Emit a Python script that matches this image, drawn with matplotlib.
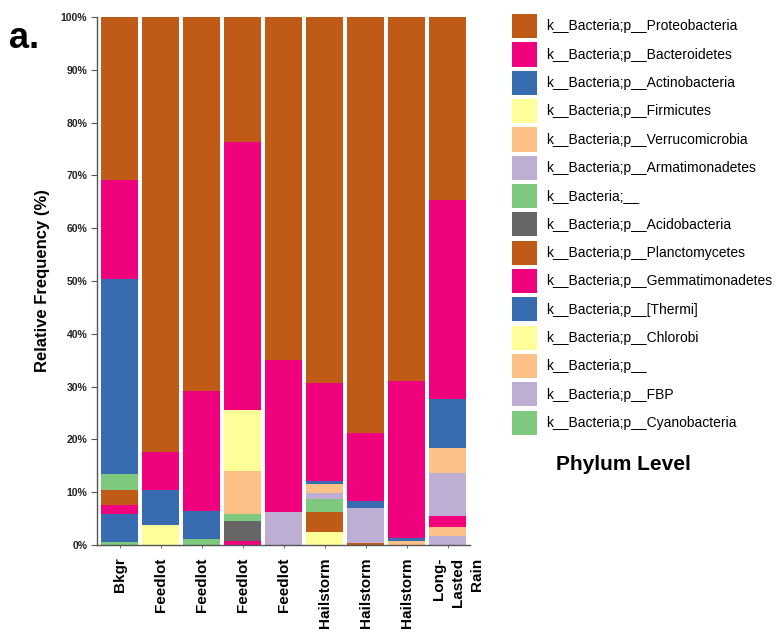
import numpy as np
import matplotlib.pyplot as plt
from matplotlib.patches import Patch

plt.rcParams['font.family'] = ['Liberation Sans', 'DejaVu Sans']

samples = ['Bkgr', 'Feedlot', 'Feedlot', 'Feedlot', 'Feedlot',
           'Hailstorm', 'Hailstorm', 'Hailstorm', 'Long-\nLasted\nRain']

# phyla in legend order (top of stack first)
phyla = ['k__Bacteria;p__Proteobacteria', 'k__Bacteria;p__Bacteroidetes',
         'k__Bacteria;p__Actinobacteria', 'k__Bacteria;p__Firmicutes',
         'k__Bacteria;p__Verrucomicrobia', 'k__Bacteria;p__Armatimonadetes',
         'k__Bacteria;__', 'k__Bacteria;p__Acidobacteria',
         'k__Bacteria;p__Planctomycetes', 'k__Bacteria;p__Gemmatimonadetes',
         'k__Bacteria;p__[Thermi]', 'k__Bacteria;p__Chlorobi',
         'k__Bacteria;p__', 'k__Bacteria;p__FBP', 'k__Bacteria;p__Cyanobacteria']

colors = ['#bf5b17', '#f0027f', '#386cb0', '#ffff99', '#fdc086', '#beaed4',
          '#7fc97f', '#666666'] * 2
colors = colors[:15]

# relative frequency (%) of each phylum per sample
proteo    = [30.9, 82.3, 70.9, 23.6, 65.0, 69.3, 78.8, 68.9, 34.7]
bacteroid = [18.8,  7.2, 22.6, 50.8, 28.8, 18.6, 12.8, 29.7, 37.6]
actino    = [36.9,  6.8,  5.4,  0.0,  0.0,  0.6,  1.4,  0.0,  9.4]
firmic    = [ 0.0,  3.7,  0.0, 11.6,  0.0,  0.0,  0.0,  0.0,  0.0]
verruco   = [ 0.0,  0.0,  0.0,  8.1,  0.0,  1.7,  0.0,  0.0,  4.7]
armati    = [ 0.0,  0.0,  0.0,  0.0,  6.2,  1.0,  6.6,  0.0,  8.1]
bact_unk  = [ 2.9,  0.0,  0.0,  1.4,  0.0,  2.6,  0.0,  0.0,  0.0]
acido     = [ 0.0,  0.0,  0.0,  3.8,  0.0,  0.0,  0.0,  0.0,  0.0]
plancto   = [ 2.9,  0.0,  0.0,  0.0,  0.0,  3.8,  0.4,  0.0,  0.0]
gemma     = [ 1.8,  0.0,  0.0,  0.7,  0.0,  0.0,  0.0,  0.0,  2.0]
thermi    = [ 5.2,  0.0,  0.0,  0.0,  0.0,  0.0,  0.0,  0.6,  0.0]
chlorobi  = [ 0.0,  0.0,  0.0,  0.0,  0.0,  2.4,  0.0,  0.0,  0.0]
p_unk     = [ 0.0,  0.0,  0.0,  0.0,  0.0,  0.0,  0.0,  0.8,  1.7]
fbp       = [ 0.0,  0.0,  0.0,  0.0,  0.0,  0.0,  0.0,  0.0,  1.8]
cyano     = [ 0.6,  0.0,  1.1,  0.0,  0.0,  0.0,  0.0,  0.0,  0.0]

values = [proteo, bacteroid, actino, firmic, verruco, armati, bact_unk, acido,
          plancto, gemma, thermi, chlorobi, p_unk, fbp, cyano]

fig = plt.figure(figsize=(7.77, 6.35), dpi=100)
ax = fig.add_axes([0.1248, 0.1417, 0.4802, 0.8315])

x = np.arange(len(samples))
bottom = np.zeros(len(samples))
# stack from the last phylum upward so Proteobacteria ends on top
for vals, c in zip(values[::-1], colors[::-1]):
    vals = np.array(vals)
    ax.bar(x, vals, bottom=bottom, width=0.89, color=c, linewidth=0)
    bottom += vals

ax.set_xlim(-0.55, 8.55)
ax.set_ylim(0, 100)
ax.set_yticks(np.arange(0, 101, 10))
ax.set_yticklabels([f'{v}%' for v in range(0, 101, 10)],
                   fontsize=7.5, fontweight='bold', color='#222222')
ax.set_xticks(x)
# the three-line label is drawn separately, nudged right of its tick
ax.set_xticklabels(samples[:-1] + [''], rotation=90, fontsize=11,
                   fontweight='bold')
ax.annotate(samples[-1], xy=(x[-1], 0), xycoords=('data', 'axes fraction'),
            xytext=(7.5, -9), textcoords='offset points', rotation=90,
            ha='center', va='top', multialignment='right', linespacing=1.45,
            fontsize=11, fontweight='bold')
ax.tick_params(axis='y', length=4, width=0.8, color='#555555', pad=3)
ax.tick_params(axis='x', length=2, width=0.6, color='#555555', pad=7)
for s in ['top', 'right']:
    ax.spines[s].set_visible(False)
for s in ['left', 'bottom']:
    ax.spines[s].set_color('#555555')
    ax.spines[s].set_linewidth(1.0)
ax.set_ylabel('Relative Frequency (%)', fontsize=12, fontweight='bold',
              labelpad=8)

fig.text(0.012, 0.925, 'a.', fontsize=26, fontweight='bold')

handles = [Patch(facecolor=c, edgecolor='none') for c in colors]
fig.legend(handles, phyla, loc='upper left',
           bbox_to_anchor=(511.7 / 777, 1 - 14 / 635), frameon=False,
           fontsize=10, handlelength=1.8, handleheight=2.3, labelspacing=0.3,
           handletextpad=0.65, borderpad=0, borderaxespad=0)
fig.text(556 / 777, 1 - 464 / 635, 'Phylum Level', fontsize=15,
         fontweight='bold', va='center')

fig.savefig('out.png', dpi=100)
